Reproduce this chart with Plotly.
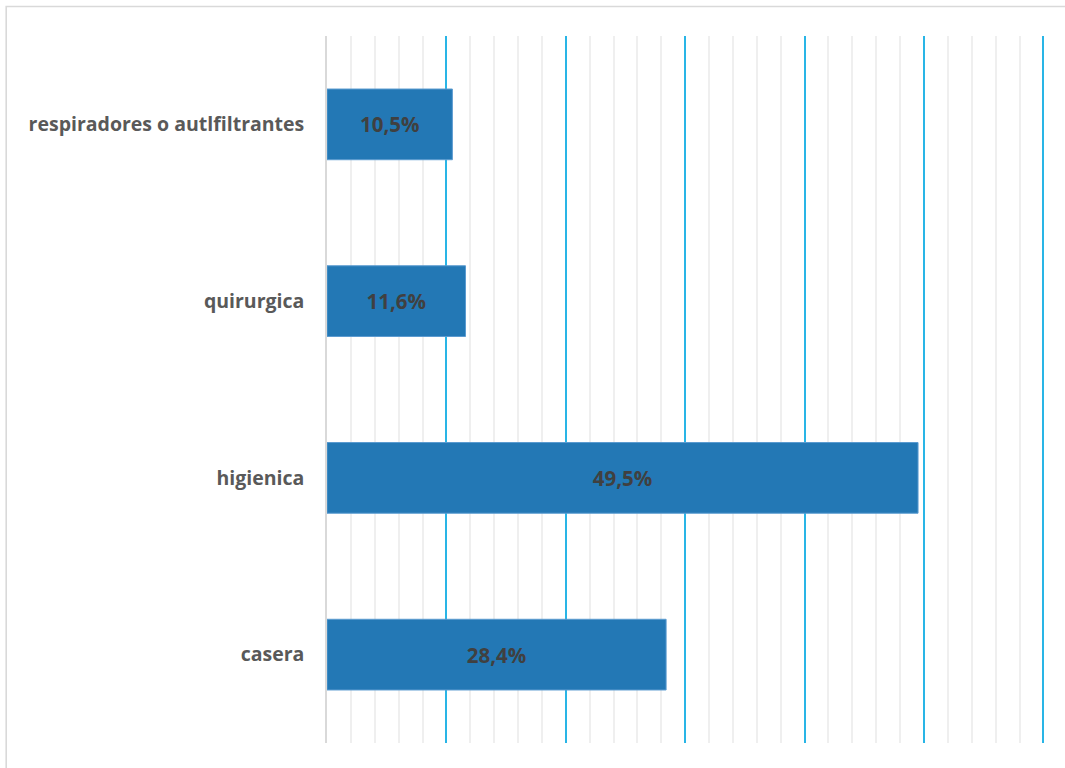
import plotly.graph_objects as go

# Mask types and share of respondents (%)
categories = ["casera", "higienica", "quirurgica", "respiradores o autlfiltrantes"]
values = [28.4, 49.5, 11.6, 10.5]
major_ticks = [10, 20, 30, 40, 50, 60]

W, H = 1065, 768
L, R, T, B = 327, 1043, 36, 743
x_max = 60.3
r_px = L + (R - L) * x_max / 60

fig = go.Figure(
    go.Bar(
        x=values,
        y=categories,
        orientation="h",
        marker=dict(color="#2378B5", line=dict(color="#5B9BD0", width=1)),
        width=0.4,
        texttemplate="%{x:.1f}%",
        textposition="inside",
        insidetextanchor="middle",
        textfont=dict(family="Open Sans", size=20.5, color="#404040", weight="bold"),
        hoverinfo="skip",
    )
)

fig.update_layout(
    width=W,
    height=H,
    separators=",.",
    paper_bgcolor="white",
    plot_bgcolor="white",
    margin=dict(l=L, r=W - r_px, t=T, b=H - B),
    showlegend=False,
    uniformtext=dict(mode=False),
)

fig.update_xaxes(
    range=[0, x_max],
    tickmode="array",
    tickvals=major_ticks,
    showticklabels=False,
    showgrid=True,
    gridcolor="#29B5E6",
    gridwidth=1.6,
    zeroline=False,
    showline=False,
    ticks="",
    minor=dict(dtick=2, tick0=0, showgrid=True, gridcolor="#EFEFEF", gridwidth=1.6),
)

fig.update_yaxes(
    showline=True,
    linecolor="#D9D9D9",
    linewidth=1.6,
    showgrid=False,
    ticks="",
    ticklabelstandoff=17,
    tickfont=dict(family="Open Sans", size=19.5, color="#595959", weight="bold"),
)

# Light outer frame around the chart
pw, ph = R - L, B - T
fig.add_shape(
    type="rect",
    xref="paper",
    yref="paper",
    x0=(8 - L) / pw,
    x1=(W + 5 - L) / pw,
    y0=(B - (H + 5)) / ph,
    y1=(B - 6.5) / ph,
    line=dict(color="#D9D9D9", width=1.6),
    fillcolor="rgba(0,0,0,0)",
    layer="below",
)

fig.write_html("out.html")
